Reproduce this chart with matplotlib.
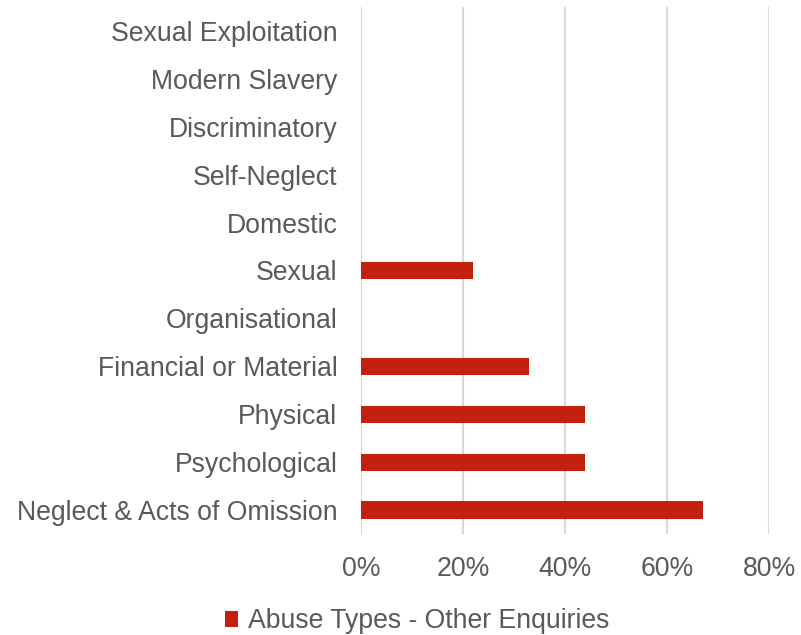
import matplotlib.pyplot as plt
from matplotlib.ticker import PercentFormatter

categories = ['Neglect & Acts of Omission', 'Psychological', 'Physical',
              'Financial or Material', 'Organisational', 'Sexual', 'Domestic',
              'Self-Neglect', 'Discriminatory', 'Modern Slavery',
              'Sexual Exploitation']
values = [67, 44, 44, 33, 0, 22, 0, 0, 0, 0, 0]
x_ticks = [0, 20, 40, 60, 80]
series_name = 'Abuse Types - Other Enquiries'

plt.rcParams['font.family'] = ['Liberation Sans', 'DejaVu Sans']
text_color = '#595959'
bar_color = '#C3200E'

fig = plt.figure(figsize=(8.01, 6.35), dpi=100)
ax = fig.add_axes([361 / 801, 1 - 534 / 635, 408 / 801, 527 / 635])

ax.barh(categories, values, height=0.36, color=bar_color, label=series_name, zorder=3)

ax.set_xlim(0, 80)
ax.set_ylim(-0.5, len(categories) - 0.5)
ax.set_xticks(x_ticks)
ax.xaxis.set_major_formatter(PercentFormatter(decimals=0))
ax.grid(axis='x', color='#D9D9D9', linewidth=1.5, zorder=0)
for s in ax.spines.values():
    s.set_visible(False)
ax.tick_params(axis='both', length=0, labelsize=19.2, colors=text_color)
ax.tick_params(axis='y', pad=17)
ax.tick_params(axis='x', pad=16)

# legend sits a little right of centre in the original
fig.legend(loc='center', bbox_to_anchor=(417 / 801, 1 - 621 / 635), frameon=False,
           fontsize=19.2, labelcolor=text_color, handlelength=0.5,
           handleheight=0.55, handletextpad=0.35, borderpad=0)

fig.savefig('out.png', dpi=100)
